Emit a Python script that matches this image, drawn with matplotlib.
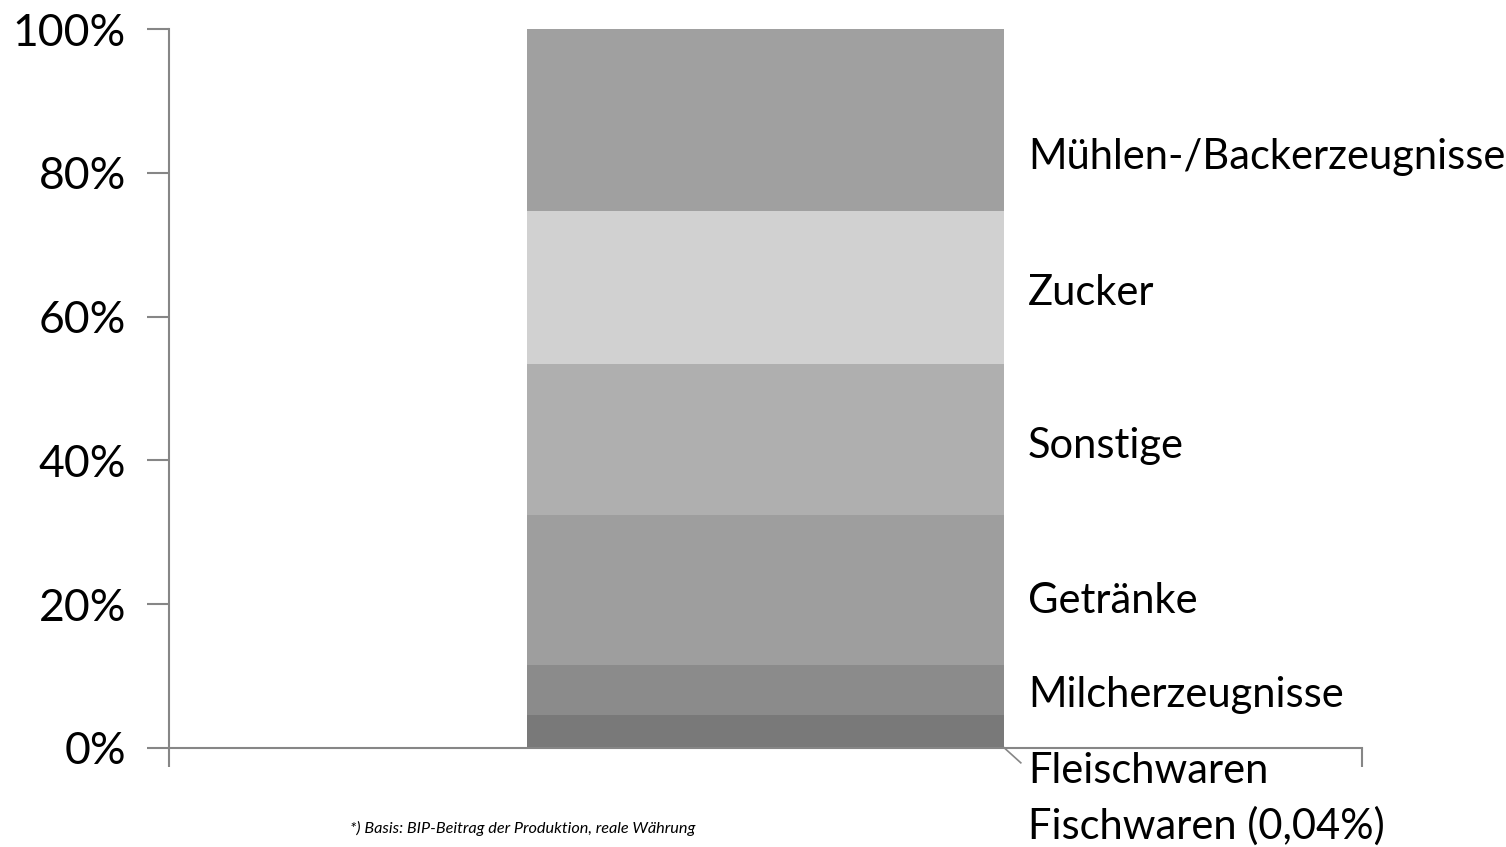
import numpy as np
import matplotlib.pyplot as plt

plt.rcParams['font.family'] = ['Lato', 'DejaVu Sans']

# shares in percent, bottom to top
categories = ["Fischwaren (0,04%)", "Fleischwaren", "Milcherzeugnisse", "Getränke",
              "Sonstige", "Zucker", "Mühlen-/Backerzeugnisse"]
shares = [0.04, 4.55, 6.96, 20.88, 21.02, 21.30, 25.25]
colors = ["#6e6e6e", "#797979", "#8b8b8b", "#9e9e9e", "#afafaf", "#d1d1d1", "#a0a0a0"]
label_shift = [-10.9, -5.6, -0.7, -1.5, -1.0, -0.85, -5.1]
yticks = [0, 20, 40, 60, 80, 100]
ytick_labels = ["0%", "20%", "40%", "60%", "80%", "100%"]
footnote = "*) Basis: BIP-Beitrag der Produktion, reale Währung"

fig = plt.figure(figsize=(15.06, 8.47), dpi=100)
ax = fig.add_axes([0.1122, 0.1172, 0.7922, 0.8482])

bar_w = 0.4
bottoms = np.concatenate([[0], np.cumsum(shares)[:-1]])
ax.bar(0, shares, width=bar_w, bottom=bottoms, color=colors, linewidth=0)

for name, b, s, d in zip(categories, bottoms, shares, label_shift):
    ax.text(bar_w / 2 + 0.02, b + s / 2 + d, name, fontsize=30, va="center", ha="left",
            color="black", clip_on=False)

# leader line for the tiny fish segment
ax.plot([bar_w / 2, bar_w / 2 + 0.014], [0, -2.1], color="#868686", lw=1.2, clip_on=False)

ax.set_xlim(-0.5, 0.5)
ax.set_ylim(0, 100)
ax.set_yticks(yticks)
ax.set_yticklabels(ytick_labels, fontsize=32)
ax.set_xticks([-0.5, 0.5])
ax.set_xticklabels([])
ax.tick_params(axis="y", length=16, width=1.5, color="#868686", pad=15)
ax.tick_params(axis="x", length=14, width=1.5, color="#868686")

for side in ["top", "right"]:
    ax.spines[side].set_visible(False)
for side in ["left", "bottom"]:
    ax.spines[side].set_color("#868686")
    ax.spines[side].set_linewidth(1.5)

fig.text(0.347, 0.0224, footnote, fontsize=11.7, style="italic", ha="center", va="center")

fig.savefig("out.png", dpi=100)
